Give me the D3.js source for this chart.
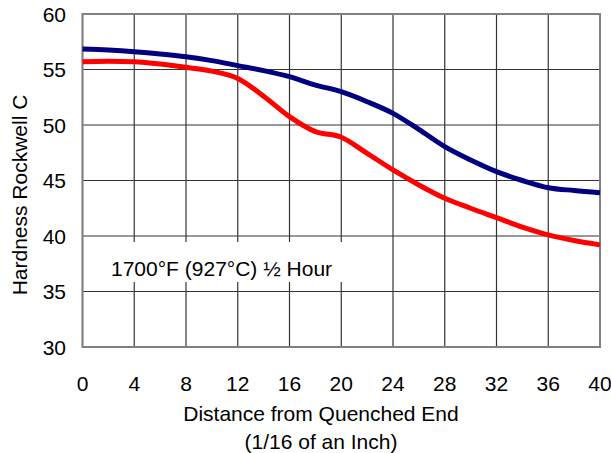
<!DOCTYPE html>
<html lang="en">
<head>
    <meta charset="UTF-8">
    <title>Jominy Hardness</title>
    <script src="https://cdn.jsdelivr.net/npm/d3@7"></script>
    <style>
        body {
            margin: 0;
            padding: 0;
            background: #fff;
            font-family: 'Liberation Sans', Arial, sans-serif;
        }
        svg text {
            fill: #000;
            font-size: 21px;
        }
    </style>
</head>
<body>
    <svg id="chart" width="611" height="453"></svg>

    <script>
        // Distance from quenched end (1/16 in)
        const distance = [0, 2, 4, 6, 8, 10, 12, 14, 16, 18, 20, 22, 24, 26, 28, 30, 32, 34, 36, 38, 40];
        // Hardness, two curves
        const blueHardness = [56.85, 56.75, 56.6, 56.4, 56.15, 55.8, 55.35, 54.9, 54.35, 53.6, 53.0, 52.1, 51.05, 49.6, 48.05, 46.85, 45.8, 45.0, 44.35, 44.1, 43.9];
        const redHardness = [55.7, 55.75, 55.7, 55.5, 55.2, 54.85, 54.2, 52.6, 50.75, 49.4, 48.9, 47.45, 45.95, 44.6, 43.4, 42.5, 41.65, 40.8, 40.1, 39.6, 39.2];
        const xTicks = [0, 4, 8, 12, 16, 20, 24, 28, 32, 36, 40];
        const yTicks = [30, 35, 40, 45, 50, 55, 60];
        const noteText = "1700°F (927°C) ½ Hour";

        const svg = d3.select("#chart");
        const plot = { left: 82.5, right: 600, top: 14, bottom: 347 };

        const x = d3.scaleLinear().domain([0, 40]).range([plot.left, plot.right]);
        const y = d3.scaleLinear().domain([30, 60]).range([plot.bottom, plot.top]);

        // grid
        svg.append("g")
            .selectAll("line")
            .data(xTicks)
            .enter().append("line")
            .attr("x1", d => x(d)).attr("x2", d => x(d))
            .attr("y1", plot.top).attr("y2", plot.bottom)
            .attr("stroke", "#333")
            .attr("stroke-width", 1.2);

        svg.append("g")
            .selectAll("line")
            .data(yTicks)
            .enter().append("line")
            .attr("x1", plot.left).attr("x2", plot.right)
            .attr("y1", d => y(d)).attr("y2", d => y(d))
            .attr("stroke", "#333")
            .attr("stroke-width", 1.2);

        // label box (white, covers grid)
        svg.append("rect")
            .attr("x", 100).attr("y", 242)
            .attr("width", 246).attr("height", 40)
            .attr("fill", "#fff");

        svg.append("text")
            .attr("x", 111)
            .attr("y", 276)
            .text(noteText);

        // border
        svg.append("rect")
            .attr("x", plot.left).attr("y", plot.top)
            .attr("width", plot.right - plot.left).attr("height", plot.bottom - plot.top)
            .attr("fill", "none")
            .attr("stroke", "#808080")
            .attr("stroke-width", 2);

        const line = d3.line()
            .x((d, i) => x(distance[i]))
            .y(d => y(d))
            .curve(d3.curveMonotoneX);

        svg.append("path")
            .datum(blueHardness)
            .attr("d", line)
            .attr("fill", "none")
            .attr("stroke", "#000080")
            .attr("stroke-width", 5);

        svg.append("path")
            .datum(redHardness)
            .attr("d", line)
            .attr("fill", "none")
            .attr("stroke", "#ff0000")
            .attr("stroke-width", 5);

        // tick labels
        svg.append("g")
            .selectAll("text")
            .data(yTicks)
            .enter().append("text")
            .attr("x", 66)
            .attr("y", d => y(d) + 7.5)
            .attr("text-anchor", "end")
            .text(d => d);

        svg.append("g")
            .selectAll("text")
            .data(xTicks)
            .enter().append("text")
            .attr("x", d => x(d))
            .attr("y", 391)
            .attr("text-anchor", "middle")
            .text(d => d);

        // axis titles
        svg.append("text")
            .attr("x", 321).attr("y", 420.5)
            .attr("text-anchor", "middle")
            .text("Distance from Quenched End");

        svg.append("text")
            .attr("x", 321).attr("y", 449)
            .attr("text-anchor", "middle")
            .text("(1/16 of an Inch)");

        svg.append("text")
            .attr("transform", "translate(27,195) rotate(-90)")
            .attr("text-anchor", "middle")
            .text("Hardness Rockwell C");
    </script>
</body>
</html>
